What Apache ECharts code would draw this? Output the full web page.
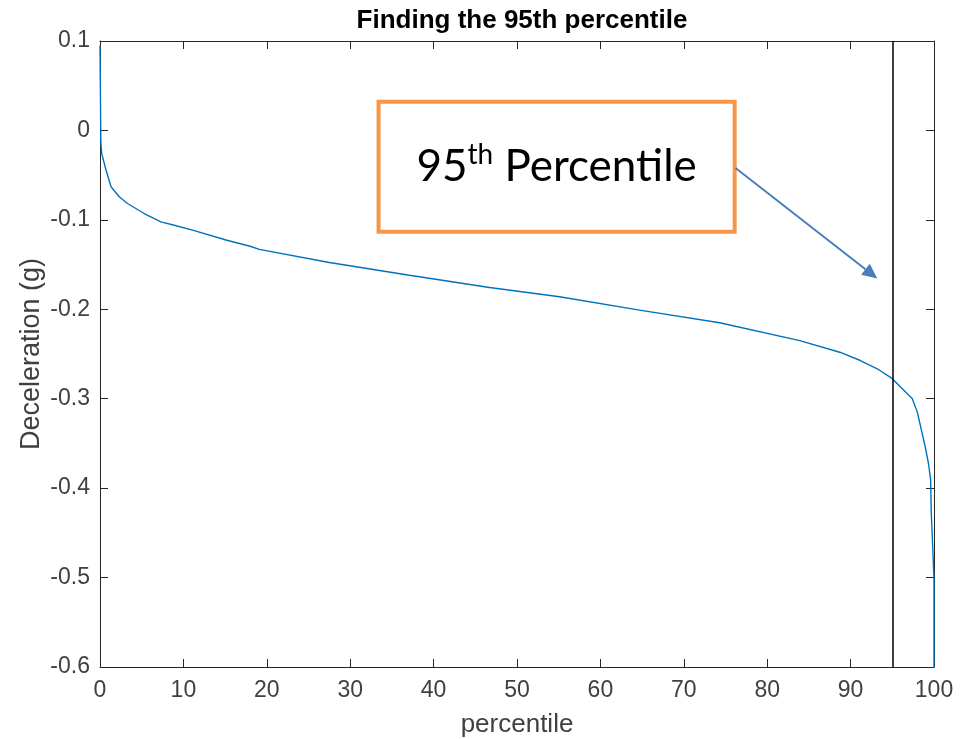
<!DOCTYPE html>
<html><head><meta charset="utf-8">
<script src="https://cdn.jsdelivr.net/npm/echarts@6/dist/echarts.min.js"></script>
<style>html,body{margin:0;padding:0;background:#fff}#c{width:965px;height:739px}</style>
</head><body><div id="c"></div>
<script>
// ---- data ----
const percentiles = [0, 0.1, 0.2, 0.72, 1.32, 2.3, 3.3, 5.3, 7.3, 8.9, 11.1, 15.1, 18.0, 19.1, 27.5, 37.1, 46.7, 55.1, 64.7, 74.3, 83.9, 88.7, 91.1, 93.2, 95.0, 96.8, 97.4, 98.0, 98.5, 98.95, 99.35, 99.6, 99.67, 99.88, 100, 100];
const deceleration = [0.095, -0.0126, -0.0257, -0.0443, -0.063, -0.0742, -0.0817, -0.0929, -0.1022, -0.106, -0.1115, -0.1225, -0.1295, -0.133, -0.1477, -0.162, -0.1757, -0.186, -0.201, -0.215, -0.235, -0.248, -0.257, -0.2665, -0.2776, -0.2944, -0.300, -0.315, -0.3355, -0.354, -0.373, -0.391, -0.427, -0.4736, -0.503, -0.6];
const thresholdPercentile = 95;
const xRange = [0, 100], xStep = 10;
const yRange = [-0.6, 0.1], yStep = 0.1;
const titleText = 'Finding the 95th percentile';
const xName = 'percentile';
const yName = 'Deceleration (g)';
const annotationMain = '95', annotationSup = 'th', annotationRest = ' Percentile';

// annotation anchor (data space)
const boxCorner1 = [33.4, 0.032], boxCorner2 = [76.1, -0.1134];
const arrowFrom = [76.2, -0.042], arrowTo = [93.2, -0.1656];

const axisColor = '#262626';
const font = 'Liberation Sans, Arial, Helvetica, sans-serif';
const chart = echarts.init(document.getElementById('c'), null, {renderer: 'canvas'});
const pts = percentiles.map((p, i) => [p, deceleration[i]]);
const fmtY = v => { const r = Math.round(v * 10) / 10; return r === 0 ? '0' : r.toFixed(1); };

function baseAxis(extra) {
  return Object.assign({
    type: 'value',
    axisLine: {show: true, onZero: false, lineStyle: {color: axisColor, width: 1}},
    axisTick: {show: true, inside: true, length: 8, lineStyle: {color: axisColor, width: 1}},
    splitLine: {show: false},
    axisLabel: {show: false}
  }, extra);
}

chart.setOption({
  animation: false,
  backgroundColor: '#fff',
  title: {
    text: titleText, left: 517, top: 3, textAlign: 'center',
    textStyle: {fontSize: 26, fontWeight: 'bold', color: '#000', fontFamily: font}
  },
  grid: {left: 100, right: 31, top: 41, bottom: 72, containLabel: false, outerBoundsMode: 'none'},
  xAxis: [
    baseAxis({min: xRange[0], max: xRange[1], interval: xStep, position: 'bottom',
      name: xName, nameLocation: 'middle', nameGap: 45,
      nameTextStyle: {fontSize: 26, color: '#404040', fontFamily: font},
      axisLabel: {show: true, fontSize: 23, color: '#404040', margin: 12, fontFamily: font}}),
    baseAxis({min: xRange[0], max: xRange[1], interval: xStep, position: 'top'})
  ],
  yAxis: [
    baseAxis({min: yRange[0], max: yRange[1], interval: yStep, position: 'left',
      name: yName, nameLocation: 'middle', nameGap: 55, nameRotate: 90, nameMoveOverlap: false,
      nameTextStyle: {fontSize: 27, color: '#404040', fontFamily: font},
      axisLabel: {show: true, fontSize: 23, color: '#404040', margin: 10, fontFamily: font, formatter: fmtY}}),
    baseAxis({min: yRange[0], max: yRange[1], interval: yStep, position: 'right'})
  ],
  series: [{
    type: 'line', xAxisIndex: 0, yAxisIndex: 0, data: pts,
    showSymbol: false, symbol: 'none',
    lineStyle: {color: '#0072BD', width: 1.4},
    markLine: {
      silent: true, symbol: 'none', label: {show: false},
      lineStyle: {color: '#000', width: 1.5, type: 'solid'},
      data: [{xAxis: thresholdPercentile}]
    }
  }]
});

const toPx = v => chart.convertToPixel({xAxisIndex: 0, yAxisIndex: 0}, v);
const b1 = toPx(boxCorner1), b2 = toPx(boxCorner2);
const a1 = toPx(arrowFrom), a2 = toPx(arrowTo);
const ang = Math.atan2(a2[1] - a1[1], a2[0] - a1[0]);
const headLen = 15, headW = 7;
const base = [a2[0] - headLen * Math.cos(ang), a2[1] - headLen * Math.sin(ang)];
const perp = [-Math.sin(ang), Math.cos(ang)];
const arrowColor = '#4A7EBB';

chart.setOption({
  graphic: [
    {type: 'rect', shape: {x: b1[0], y: b1[1], width: b2[0] - b1[0], height: b2[1] - b1[1]},
     style: {fill: '#fff', stroke: '#F79646', lineWidth: 4}, z: 100},
    {type: 'text', x: (b1[0] + b2[0]) / 2, y: (b1[1] + b2[1]) / 2, z: 101,
     style: {
       text: '{a|' + annotationMain + '}{s|' + annotationSup + '}{a|' + annotationRest + '}',
       align: 'center', verticalAlign: 'middle',
       rich: {
         a: {fontSize: 44, fontFamily: 'Lato, "Open Sans", sans-serif', fill: '#000', lineHeight: 52},
         s: {fontSize: 28, fontFamily: 'Lato, "Open Sans", sans-serif', fill: '#000', verticalAlign: 'top', lineHeight: 52, padding: [0, 0, 12, 0]}
       }
     }},
    {type: 'line', shape: {x1: a1[0], y1: a1[1], x2: base[0], y2: base[1]},
     style: {stroke: arrowColor, lineWidth: 2}, z: 100},
    {type: 'polygon', shape: {points: [
       a2,
       [base[0] + perp[0] * headW, base[1] + perp[1] * headW],
       [base[0] - perp[0] * headW, base[1] - perp[1] * headW]
     ]}, style: {fill: arrowColor}, z: 100}
  ]
});
</script>
</body></html>
